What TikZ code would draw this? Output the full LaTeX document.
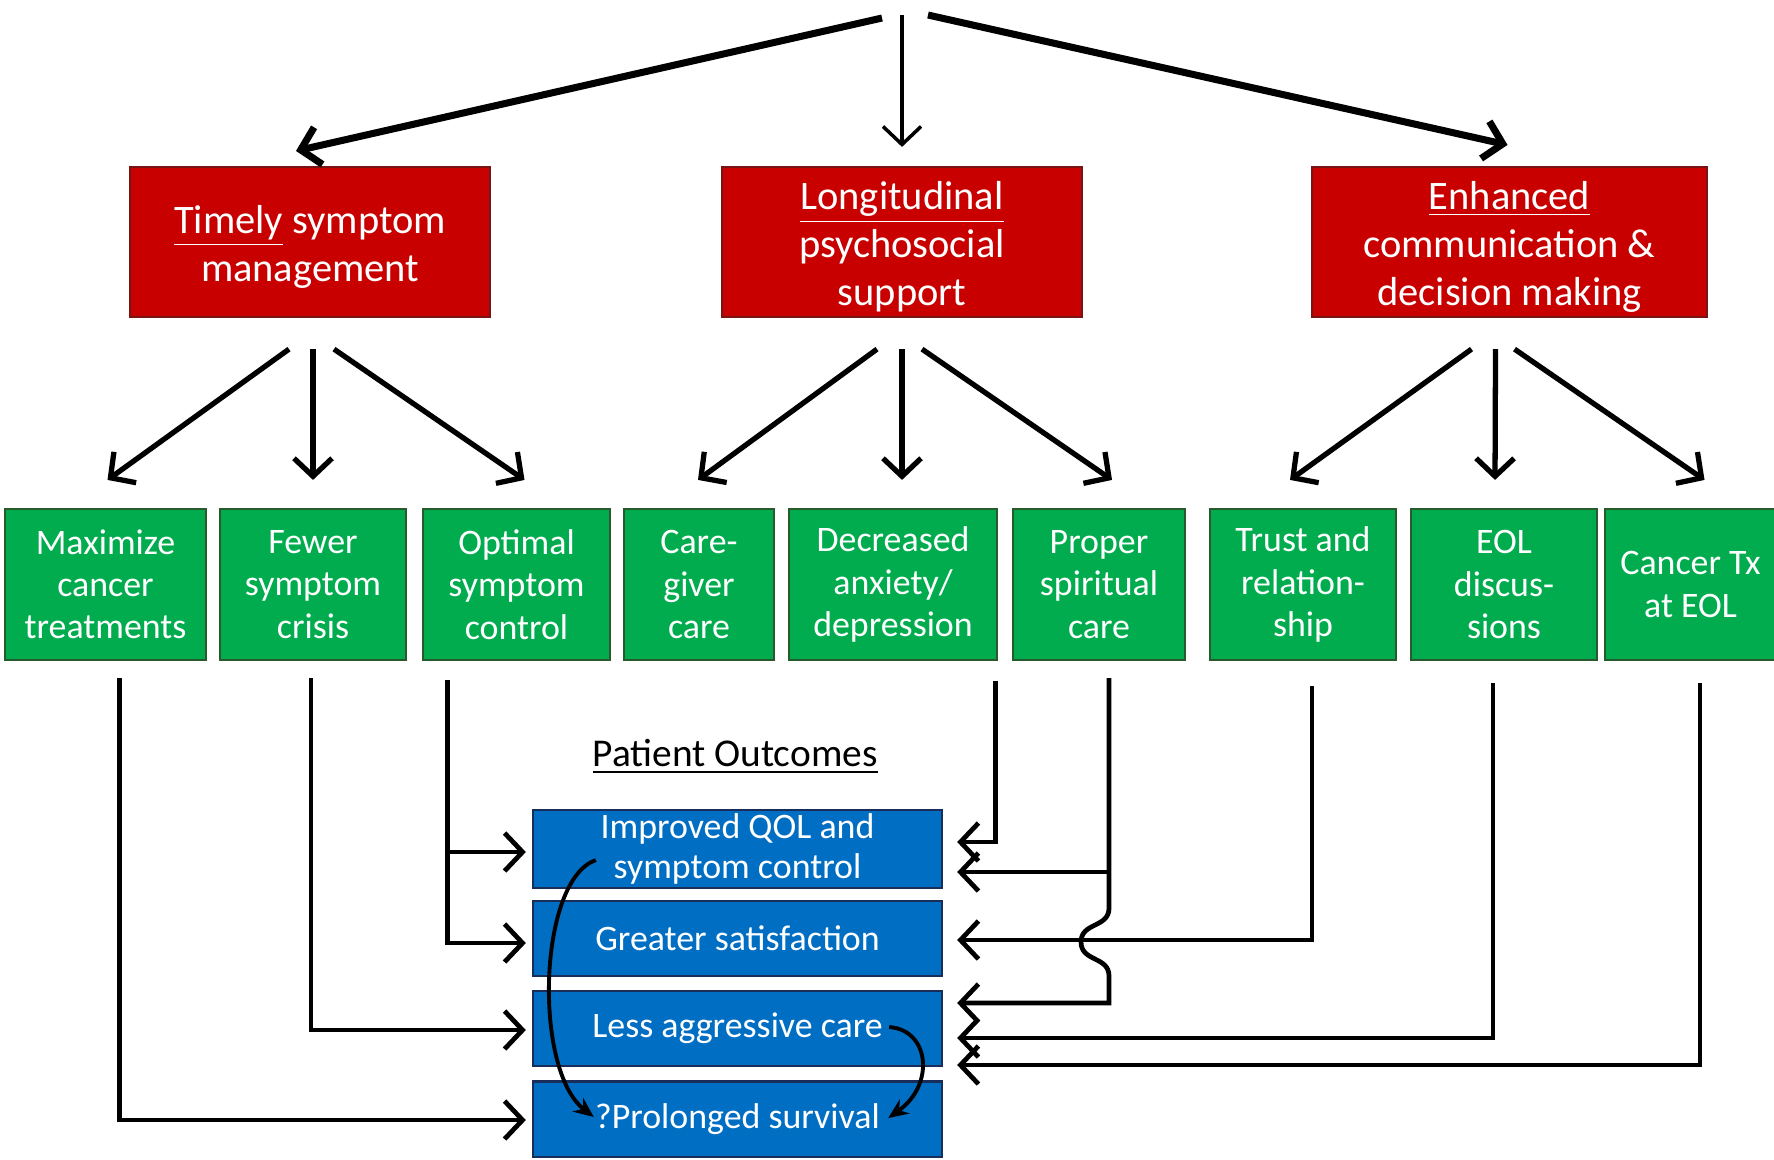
\documentclass[tikz,border=0pt]{standalone}
\usepackage{fontspec}
\setmainfont{Carlito}
\usetikzlibrary{arrows.meta,calc}

\definecolor{boxred}{RGB}{200,0,0}
\definecolor{boxredline}{RGB}{120,20,20}
\definecolor{boxgreen}{RGB}{0,172,78}
\definecolor{boxgreenline}{RGB}{40,90,45}
\definecolor{boxblue}{RGB}{0,110,195}
\definecolor{boxblueline}{RGB}{25,45,90}

\newcommand{\redlines}[1]{\raisebox{-1.6pt}[\height][\depth]{\begin{tabular}{@{}c@{}}#1\end{tabular}}}

\begin{document}
\begin{tikzpicture}[x=0.01cm,y=-0.01cm,
    redbox/.style={draw=boxredline,fill=boxred,text=white,line width=0.6pt,
      minimum height=1.5cm,inner xsep=2pt,inner ysep=0pt,
      font=\fontsize{11.5}{13.6}\selectfont},
    greenbox/.style={draw=boxgreenline,fill=boxgreen,text=white,line width=0.6pt,
      minimum height=1.51cm,align=center,inner sep=2pt,
      font=\fontsize{10.2}{12}\selectfont},
    bluebox/.style={draw=boxblueline,fill=boxblue,text=white,line width=0.6pt,
      minimum width=4.09cm,minimum height=0.75cm,align=center,inner sep=1pt,
      font=\fontsize{10.2}{11.6}\selectfont},
    arr/.style={-{Straight Barb[length=0.18cm,width=0.38cm]},line width=1.35pt},
    curv/.style={-{Stealth[length=0.2cm,width=0.17cm]},line width=1.1pt}]

    \useasboundingbox (0,0) rectangle (1774,1159);

    \coordinate (top) at (902,15);

    \node[redbox,minimum width=3.6cm] (timely) at (310,242) {\redlines{\underline{Timely} symptom\\management}};
    \node[redbox,minimum width=3.6cm] (longit) at (902,242) {\redlines{\underline{Longitudinal}\\psychosocial\\support}};
    \node[redbox,minimum width=3.95cm] (enhanced) at (1509.5,242) {\redlines{\underline{Enhanced}\\communication \&\\decision making}};

    \draw[arr,line width=2pt] ($(top)+(-20,3)$) -- ($(timely.north)+(-14,-15)$);
    \draw[arr,line width=1pt] (top) -- ($(longit.north)+(0,-19)$);
    \draw[arr,line width=2pt] ($(top)+(26,0)$) -- ($(enhanced.north)+(-2,-21)$);

    \node[greenbox,minimum width=2.01cm] (maxim) at (105.5,584.5) {Maximize\\cancer\\treatments};
    \node[greenbox,minimum width=1.86cm] (fewer) at (313,584.5) {Fewer\\symptom\\crisis};
    \node[greenbox,minimum width=1.87cm] (optimal) at (516.5,584.5) {Optimal\\symptom\\control};
    \node[greenbox,minimum width=1.5cm] (caregiver) at (699,584.5) {Care-\\giver\\care};
    \node[greenbox,minimum width=2.08cm] (anxiety) at (893,584.5) {Decreased\\anxiety/\\depression};
    \node[greenbox,minimum width=1.72cm] (spiritual) at (1099,584.5) {Proper\\spiritual\\care};
    \node[greenbox,minimum width=1.86cm] (trust) at (1303,584.5) {Trust and\\relation-\\ship};
    \node[greenbox,minimum width=1.86cm] (eol) at (1504,584.5) {EOL\\discus-\\sions};
    \node[greenbox,minimum width=1.71cm] (cancertx) at (1690.5,584.5) {Cancer Tx\\at EOL};

    \draw[arr,line width=1.5pt] ($(timely.south)+(-21,31)$) -- ($(maxim.north)+(2,-28)$);
    \draw[arr,line width=1.5pt] ($(timely.south)+(3,31)$) -- ($(fewer.north)+(0,-28)$);
    \draw[arr,line width=1.5pt] ($(timely.south)+(24,31)$) -- ($(optimal.north)+(8,-28)$);

    \draw[arr,line width=1.5pt] ($(longit.south)+(-25,31)$) -- ($(caregiver.north)+(-1,-28)$);
    \draw[arr,line width=1.5pt] ($(longit.south)+(0,31)$) -- ($(anxiety.north)+(9,-28)$);
    \draw[arr,line width=1.5pt] ($(longit.south)+(20,31)$) -- ($(spiritual.north)+(13,-28)$);

    \draw[arr,line width=1.5pt] ($(enhanced.south)+(-38,31)$) -- ($(trust.north)+(-13,-28)$);
    \draw[arr,line width=1.5pt] ($(enhanced.south)+(-14,31)$) -- ($(eol.north)+(-9,-28)$);
    \draw[arr,line width=1.5pt] ($(enhanced.south)+(5,31)$) -- ($(cancertx.north)+(14,-28)$);

    \node[font=\fontsize{11.2}{13}\selectfont] (outcomes) at (735,757) {\underline{Patient Outcomes}};

    \node[bluebox] (qol) at (737.5,849) {Improved QOL and\\symptom control};
    \node[bluebox] (satisf) at (737.5,938.5) {Greater satisfaction};
    \node[bluebox] (aggr) at (737.5,1028.5) {Less aggressive care};
    \node[bluebox] (surv) at (737.5,1119) {?Prolonged survival};

    \draw[arr] ($(maxim.south)+(14,17)$) |- ($(surv.west)+(-6,1)$);
    \draw[arr] ($(fewer.south)+(-2,17)$) |- ($(aggr.west)+(-6,1.5)$);
    \draw[arr] ($(optimal.south)+(-69,19)$) |- ($(satisf.west)+(-6,4.5)$);
    \draw[arr] ($(optimal.south)+(-69,19)$) |- ($(qol.west)+(-6,3)$);

    \coordinate (sp) at ($(spiritual.south)+(10,17)$);

    \draw[arr] ($(anxiety.south east)+(-3,20)$) |- ($(qol.east)+(14,-7)$);
    \draw[arr] (sp) |- ($(qol.east)+(14,23)$);
    \draw[arr] (sp) -- (1109,908) .. controls (1109,928) and (1081,922) .. (1081,942)
      .. controls (1081,962) and (1109,956) .. (1109,976) |- ($(aggr.east)+(14,-25.5)$);
    \draw[arr] ($(trust.south)+(9,25)$) |- ($(satisf.east)+(14,1.5)$);
    \draw[arr] ($(eol.south)+(-11,22)$) |- ($(aggr.east)+(14,9.5)$);
    \draw[arr] ($(cancertx.south)+(9.5,22)$) |- ($(aggr.east)+(14,36.5)$);

    \draw[curv] ($(qol.west)+(64,11)$) .. controls (538,880) and (533,1070) .. ($(surv.west)+(62,-2)$);
    \draw[curv] ($(aggr.east)+(-54,-1.5)$) .. controls (930,1030) and (935,1085) .. ($(surv.east)+(-55,-1)$);

  \end{tikzpicture}
\end{document}
